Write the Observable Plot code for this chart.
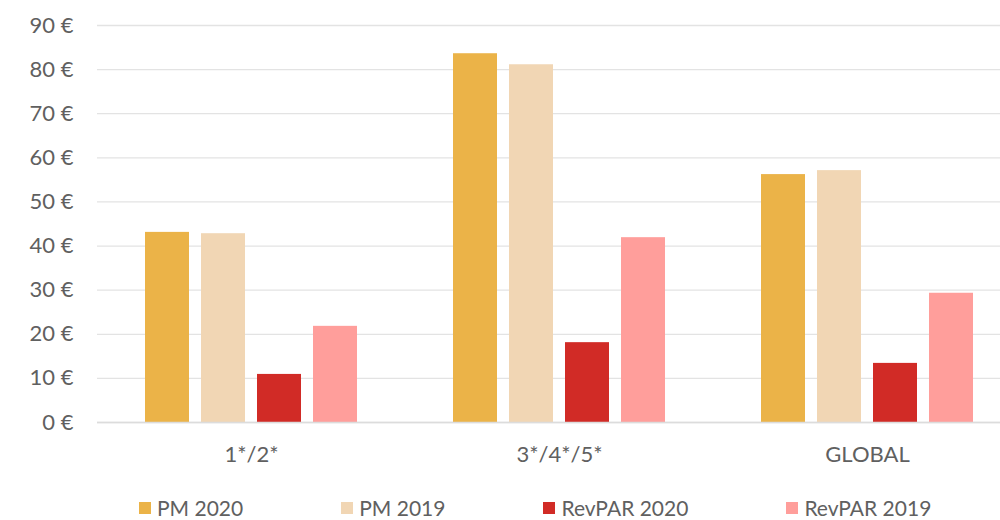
<!DOCTYPE html>
<html>
<head>
<meta charset="utf-8">
<script src="https://cdn.jsdelivr.net/npm/d3@7"></script>
<script src="https://cdn.jsdelivr.net/npm/@observablehq/plot@0.6"></script>
<style>
  html, body { margin: 0; padding: 0; background: #fff; overflow: hidden; }
  #chart svg { display: block; }
  #legend { display: flex; align-items: center; gap: 98px; padding-left: 139px; padding-top: 1px;
            font-family: Lato, sans-serif; font-size: 21px; font-weight: 400; color: #606060; line-height: 24px; }
  #legend .item { display: flex; align-items: center; gap: 6px; white-space: nowrap; }
  #legend .sw { width: 12px; height: 12px; display: inline-block; }
</style>
</head>
<body>
<div id="chart"></div>
<div id="legend"></div>
<script>
const categories = ["1*/2*", "3*/4*/5*", "GLOBAL"];
const series = ["PM 2020", "PM 2019", "RevPAR 2020", "RevPAR 2019"];
const colors = ["#EBB348", "#F1D6B4", "#D12B26", "#FF9E9B"];
const pm2020 = [43.1, 83.6, 56.2];
const pm2019 = [42.8, 81.1, 57.1];
const revpar2020 = [10.9, 18.1, 13.4];
const revpar2019 = [21.8, 41.9, 29.3];
const yTicks = [0, 10, 20, 30, 40, 50, 60, 70, 80, 90];

const seriesValues = [pm2020, pm2019, revpar2020, revpar2019];
const data = [];
categories.forEach((c, i) => {
  series.forEach((s, j) => data.push({category: c, series: s, value: seriesValues[j][i]}));
});

const plot = Plot.plot({
  width: 1000,
  height: 495,
  marginLeft: 96,
  marginRight: 0,
  marginTop: 25,
  marginBottom: 73,
  style: {fontFamily: "Lato, sans-serif", fontSize: "22px", fontWeight: 400, color: "#606060", background: "#fff", maxWidth: "none"},
  fx: {domain: categories, range: [96, 1021], padding: 0, label: null, tickSize: 0, tickPadding: 24},
  x: {domain: series, paddingInner: 0.214, paddingOuter: 0.857, axis: null},
  y: {domain: [0, 90], ticks: yTicks, tickFormat: d => `${d} €`, tickSize: 0, tickPadding: 24, label: null, grid: false},
  color: {domain: series, range: colors},
  marks: [
    Plot.ruleY(yTicks, {stroke: "#e3e3e3", strokeWidth: 1.3}),
    Plot.barY(data, {fx: "category", x: "series", y: "value", fill: "series"}),
    Plot.ruleY([0], {stroke: "#dcdcdc", strokeWidth: 1.5})
  ]
});
document.getElementById("chart").appendChild(plot);

const legend = document.getElementById("legend");
series.forEach((s, i) => {
  const item = document.createElement("div");
  item.className = "item";
  const sw = document.createElement("span");
  sw.className = "sw";
  sw.style.background = colors[i];
  const t = document.createElement("span");
  t.textContent = s;
  item.appendChild(sw);
  item.appendChild(t);
  legend.appendChild(item);
});
</script>
</body>
</html>
